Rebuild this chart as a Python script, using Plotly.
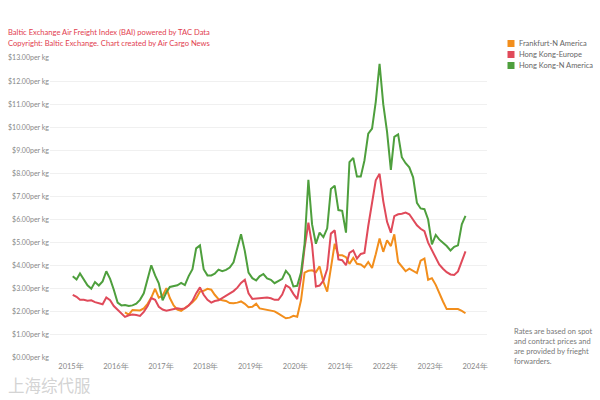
import pandas as pd
import plotly.graph_objects as go

# ---------------- data ----------------
series_names = ["Frankfurt-N America", "Hong Kong-Europe", "Hong Kong-N America"]
series_colors = ["#F28E1C", "#E04A5A", "#4E9F3D"]

hk_na = [
    3.54, 3.40, 3.66, 3.40, 3.15, 3.00, 3.29, 3.14, 3.32, 3.76, 3.43, 2.96,
    2.40, 2.28, 2.30, 2.25, 2.28, 2.35, 2.52, 2.80, 3.39, 4.02, 3.58, 3.24,
    2.50, 2.85, 3.08, 3.10, 3.15, 3.25, 3.16, 3.55, 3.85, 4.75, 4.88, 3.85,
    3.58, 3.58, 3.65, 3.83, 3.76, 3.82, 3.92, 4.15, 4.75, 5.36, 4.63, 3.70,
    3.46, 3.36, 3.54, 3.64, 3.45, 3.39, 3.24, 3.35, 3.43, 3.78, 3.58, 3.10,
    3.13, 3.70, 4.95, 7.72, 5.79, 4.95, 5.43, 5.24, 5.62, 7.32, 7.47, 6.41,
    6.38, 5.43, 8.49, 8.67, 7.86, 7.86, 8.56, 9.72, 9.94, 11.10, 12.75, 11.00,
    9.80, 8.15, 9.58, 9.69, 8.70, 8.44, 8.26, 7.83, 6.72, 6.48, 6.45, 6.00,
    4.92, 5.33, 5.14, 4.99, 4.85, 4.66, 4.82, 4.88, 5.79, 6.16,
]

hk_eu = [
    2.74, 2.65, 2.52, 2.52, 2.48, 2.50, 2.42, 2.37, 2.33, 2.62, 2.50, 2.25,
    2.10, 1.95, 1.78, 1.85, 1.88, 1.86, 1.82, 2.00, 2.25, 2.60, 2.52, 2.22,
    2.10, 2.05, 2.08, 2.12, 2.15, 2.12, 2.15, 2.27, 2.47, 2.80, 3.06, 2.74,
    2.52, 2.40, 2.47, 2.50, 2.60, 2.70, 2.78, 2.90, 3.05, 3.25, 3.39, 2.80,
    2.56, 2.58, 2.59, 2.60, 2.62, 2.59, 2.52, 2.52, 2.75, 3.15, 3.05, 2.78,
    2.55, 3.46, 4.77, 5.86, 4.90, 3.10, 3.14, 3.35, 3.85, 5.39, 5.53, 4.27,
    4.24, 4.02, 4.55, 4.66, 4.31, 4.51, 4.55, 5.72, 6.81, 7.70, 7.98, 6.80,
    5.90, 5.43, 6.15, 6.23, 6.25, 6.30, 6.23, 6.01, 5.75, 5.60, 5.50, 5.00,
    4.65, 4.30, 4.05, 3.87, 3.72, 3.62, 3.60, 3.75, 4.20, 4.62,
]

fra_na = [
    1.98, 1.88, 2.08, 2.08, 2.06, 2.15, 2.35, 2.62, 3.00, 2.62,
    2.70, 3.03, 2.60, 2.28, 2.10, 2.04, 2.15, 2.28, 2.42, 2.58, 2.88, 2.91,
    3.00, 2.96, 2.74, 2.55, 2.50, 2.47, 2.38, 2.37, 2.40, 2.45, 2.35, 2.20,
    2.22, 2.35, 2.15, 2.12, 2.10, 2.08, 2.02, 1.92, 1.80, 1.72, 1.75, 1.83,
    1.79, 2.50, 3.70, 3.78, 3.80, 3.72, 3.97, 3.30, 2.88, 4.00, 4.95, 4.45,
    4.45, 4.37, 4.08, 4.34, 4.08, 4.05, 3.93, 4.16, 3.90, 4.50, 5.18, 4.60,
    5.10, 4.85, 5.36, 4.16, 3.97, 3.76, 3.87, 3.76, 3.68, 4.22, 4.31, 3.39,
    3.46, 3.17, 2.81, 2.45, 2.12, 2.12, 2.12, 2.12, 2.04, 1.94,
]

years = list(range(2015, 2025))
year_labels = [f"{y}年" for y in years]
y_ticks = list(range(0, 14))
y_labels = [f"${v:.2f}per kg" for v in y_ticks]

title_lines = [
    "Baltic Exchange Air Freight Index (BAI) powered by TAC Data",
    "Copyright: Baltic Exchange. Chart created by Air Cargo News",
]
note_lines = [
    "Rates are based on spot",
    "and contract prices and",
    "are provided by frieght",
    "forwarders.",
]
watermark = "上海综代服"

# ---------------- build ----------------
dates_full = pd.date_range("2015-01-01", periods=len(hk_na), freq="MS") + pd.Timedelta(days=14)
dates_fra = pd.date_range("2016-03-01", periods=len(fra_na), freq="MS") + pd.Timedelta(days=14)

W, H = 600, 400
L, R, T, B = 50, 113, 58, 42
PW, PH = W - L - R, H - T - B


def px(xp):
    return (xp - L) / PW


def py(yp):
    return (H - B - yp) / PH


FONT = "Lato, Open Sans, sans-serif"

fig = go.Figure()
data_series = [(fra_na, dates_fra), (hk_eu, dates_full), (hk_na, dates_full)]
for (vals, dts), name, color in zip(data_series, series_names, series_colors):
    fig.add_trace(go.Scatter(
        x=dts, y=vals, mode="lines", name=name,
        line=dict(color=color, width=2),
        showlegend=False, hoverinfo="x+y+name",
    ))

annotations = []
for i, t in enumerate(title_lines):
    annotations.append(dict(
        text=t, x=px(7), y=py(32 + 11 * i), xref="paper", yref="paper",
        xanchor="left", yanchor="middle", showarrow=False, borderpad=0,
        font=dict(family=FONT, size=7.6, color="#E2404F"),
    ))

shapes = []
for i, (name, color) in enumerate(zip(series_names, series_colors)):
    yc = 43.5 + 11 * i
    shapes.append(dict(
        type="rect", xref="paper", yref="paper",
        x0=px(507.5), x1=px(514.5), y0=py(yc + 3.5), y1=py(yc - 3.5),
        fillcolor=color, line=dict(width=0),
    ))
    annotations.append(dict(
        text=name, x=px(517.5), y=py(yc), xref="paper", yref="paper",
        xanchor="left", yanchor="middle", showarrow=False, borderpad=0,
        font=dict(family=FONT, size=7.5, color="#666666"),
    ))

for i, t in enumerate(note_lines):
    annotations.append(dict(
        text=t, x=px(513), y=py(331 + 10 * i), xref="paper", yref="paper",
        xanchor="left", yanchor="middle", showarrow=False, borderpad=0,
        font=dict(family=FONT, size=7.5, color="#777777"),
    ))

annotations.append(dict(
    text=watermark, x=px(7), y=py(384.5), xref="paper", yref="paper",
    xanchor="left", yanchor="middle", showarrow=False, borderpad=0,
    font=dict(family="Noto Sans CJK SC", size=16.5, color="rgba(200,200,200,0.8)"),
))

fig.update_layout(
    width=W, height=H,
    margin=dict(l=L, r=R, t=T, b=B, pad=0, autoexpand=False),
    paper_bgcolor="white", plot_bgcolor="white",
    showlegend=False,
    font=dict(family=FONT, size=7.5, color="#888888"),
    annotations=annotations,
    shapes=shapes,
    xaxis=dict(
        type="date",
        range=["2014-07-14", "2024-04-07"],
        tickvals=[f"{y}-01-01" for y in years],
        ticktext=year_labels,
        showgrid=False, zeroline=False, showline=False, ticks="",
        ticklabelstandoff=2,
        tickfont=dict(family=FONT, size=7.5, color="#888888"),
        automargin=False, fixedrange=True,
    ),
    yaxis=dict(
        range=[0, 13],
        tickvals=y_ticks,
        ticktext=y_labels,
        showgrid=True, gridcolor="#F0F0F0", gridwidth=1,
        zeroline=False, showline=False, ticks="",
        tickfont=dict(family=FONT, size=7, color="#888888"),
        automargin=False, fixedrange=True,
    ),
)

fig.write_html(
    "out.html", include_plotlyjs=True, config={"displayModeBar": False},
    post_script="document.body.style.margin='0';document.body.style.padding='0';",
)
